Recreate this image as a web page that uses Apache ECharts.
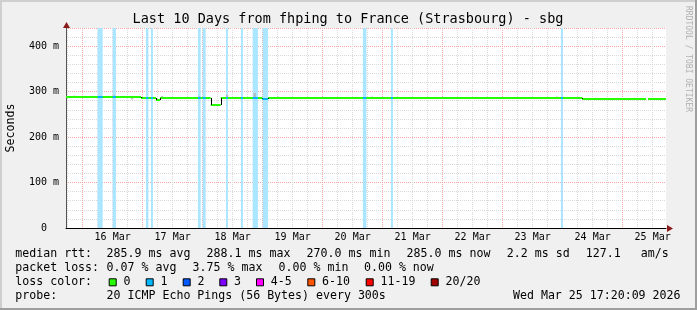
<!DOCTYPE html>
<html><head><meta charset="utf-8">
<script src="https://cdn.jsdelivr.net/npm/echarts@6/dist/echarts.min.js"></script>
<style>html,body{margin:0;padding:0;background:#f0f0f0}#c{width:697px;height:310px}</style>
</head><body><div id="c"></div>
<script>
// ---- data (x = hours since 15 Mar 2026 00:00) ----
const startHour = 17.336, endHour = 257.336;
const dayLabels = ['16 Mar','17 Mar','18 Mar','19 Mar','20 Mar','21 Mar','22 Mar','23 Mar','24 Mar','25 Mar'];
const dayLabelHours = [36,60,84,108,132,156,180,204,228,252];
const minorGridHours = [18,24,30,36,42,48,54,60,66,72,78,84,90,96,102,108,114,120,126,132,138,144,150,156,162,168,174,180,186,192,198,204,210,216,222,228,234,240,246,252];
const majorGridHours = [24,48,72,96,120,144,168,192,216,240];
const yLabelValues = [0,100,200,300,400];
const yLabelTexts = ['0  ','100 m','200 m','300 m','400 m'];

const medianStart = [17.34, 47.34, 53.34, 54.94, 75.22, 79.22, 95.86, 98.14, 223.86, 250.14];
const medianEnd   = [47.34, 53.34, 54.94, 75.22, 79.22, 95.86, 98.14, 223.86, 249.34, 257.34];
const medianValue = [288.0, 286.0, 281.5, 286.0, 270.0, 286.0, 283.0, 286.0, 284.0, 284.0];

const lossStart = [30.0, 36.0, 49.3, 51.3, 70.1, 72.0, 81.3, 87.3, 92.0, 96.0, 136.1, 147.3, 215.3];
const lossEnd   = [32.0, 37.3, 50.3, 52.1, 71.2, 73.2, 82.1, 88.1, 94.1, 98.1, 137.5, 148.1, 216.1];
const lossLevel = [1, 1, 1, 1, 1, 1, 1, 1, 1, 1, 1, 1, 1];

const smokeHour = [20.2, 30.5, 36.0, 43.4, 55.4, 70.3, 81.4, 92.4, 101.8, 139.4, 213.4];
const smokeLow  = [288, 288, 288, 283, 286, 286, 286, 286, 286, 286, 286];
const smokeHigh = [291, 291, 292, 287, 290, 290, 293, 297, 289, 289, 289];

const lossLabels = ['0','1','2','3','4-5','6-10','11-19','20/20'];
const lossColors = ['#26ff00','#00b8ff','#0059ff','#7e00ff','#ff00ff','#ff5500','#ff0000','#a00000'];
const lossBandColors = ['#b8ffaa','#aae6ff','#aac8ff','#d8aaff','#ffaaff','#ffc8aa','#ffaaaa','#e0aaaa'];

const titleText = 'Last 10 Days from fhping to France (Strasbourg) - sbg';
const rttLabel = 'median rtt:';
const rttItems = ['285.9 ms avg','288.1 ms max','270.0 ms min','285.0 ms now','2.2 ms sd','127.1','am/s'];
const lossLabel = 'packet loss:';
const lossItems = ['0.07 % avg','3.75 % max','0.00 % min','0.00 % now'];
const colorLabel = 'loss color:';
const probeLabel = 'probe:';
const probeText = '20 ICMP Echo Pings (56 Bytes) every 300s';
const dateText = 'Wed Mar 25 17:20:09 2026';

// ---- layout ----
const MONO = '"DejaVu Sans Mono", "Liberation Mono", monospace';
const rttX = [106.6, 206.6, 306.6, 406.6, 506.8, 585.8, 640.8];
const lossX = [106.6, 192.6, 278.6, 364.0];
const boxX = [108.7, 145.7, 182.7, 219.3, 256.0, 307.3, 365.7, 430.7];
const rowY = [254.3, 268.3, 282.3, 296.3];

// derived series data
const medianSegs = medianStart.map((s, i) => [s, medianEnd[i], medianValue[i], 0]);
function medianAt(h) {
  for (let i = 0; i < medianStart.length; i++) if (h >= medianStart[i] && h < medianEnd[i]) return medianValue[i];
  return null;
}
const lossSegs = lossStart.map((s, i) => [s, lossEnd[i], medianAt((s + lossEnd[i]) / 2), lossLevel[i]]);
const lossBands = lossStart.map((s, i) => [s, lossEnd[i], lossLevel[i]]);
const smokeData = smokeHour.map((h, i) => [h, smokeLow[i], smokeHigh[i]]);

const chart = echarts.init(document.getElementById('c'));

const graphics = [
  {type:'rect', shape:{x:0,y:0,width:697,height:2}, style:{fill:'#cfcfcf'}, silent:true},
  {type:'rect', shape:{x:0,y:0,width:2,height:310}, style:{fill:'#cfcfcf'}, silent:true},
  {type:'rect', shape:{x:0,y:308,width:697,height:2}, style:{fill:'#9e9e9e'}, silent:true},
  {type:'rect', shape:{x:695,y:0,width:2,height:310}, style:{fill:'#9e9e9e'}, silent:true},
  {type:'text', x:348, y:19.5, style:{text:titleText, font:'13.5px ' + MONO, fill:'#000', align:'center', verticalAlign:'middle', textAlign:'center', textVerticalAlign:'middle'}},
  {type:'text', x:11, y:128, rotation:Math.PI/2, style:{text:'Seconds', font:'11.6px ' + MONO, fill:'#000', align:'center', verticalAlign:'middle', textAlign:'center', textVerticalAlign:'middle'}},
  {type:'text', x:688, y:59, rotation:-Math.PI/2, style:{text:'RRDTOOL / TOBI OETIKER', font:'8px ' + MONO, fill:'#b0b0b0', align:'center', verticalAlign:'middle', textAlign:'center', textVerticalAlign:'middle'}},
  {type:'polygon', shape:{points:[[667,225],[673,228.5],[667,232]]}, style:{fill:'#8b1a1a'}, z:10},
  {type:'polygon', shape:{points:[[63,28],[66.5,22],[70,28]]}, style:{fill:'#8b1a1a'}, z:10}
];
function txt(t, x, y, align) {
  graphics.push({type:'text', x:x, y:y, style:{text:t, font:'11.6px ' + MONO, fill:'#000', align:align||'left', verticalAlign:'middle', textAlign:align||'left', textVerticalAlign:'middle'}});
}
txt(rttLabel, 15.3, rowY[0]);
rttItems.forEach((t, i) => txt(t, rttX[i], rowY[0]));
txt(lossLabel, 15.3, rowY[1]);
lossItems.forEach((t, i) => txt(t, lossX[i], rowY[1]));
txt(colorLabel, 15.3, rowY[2]);
lossLabels.forEach((t, i) => {
  graphics.push({type:'rect', shape:{x:boxX[i] + 0.5, y:rowY[2] - 3.5, width:7, height:7}, style:{fill:lossColors[i], stroke:'#000', lineWidth:1}});
  txt(t, boxX[i] + 14.8, rowY[2]);
});
txt(probeLabel, 15.3, rowY[3]);
txt(probeText, 106.6, rowY[3]);
txt(dateText, 680.5, rowY[3], 'right');

const axisFont = {fontFamily: MONO, fontSize: 10, color: '#000'};
const GRID_GRAY = '#dadada';
const GRID_RED = '#f5a8a8';

function bandRect(api, color) {
  const p0 = api.coord([api.value(0), api.value(2)]);
  const p1 = api.coord([api.value(1), api.value(2)]);
  const top = Math.round(p0[1] - 1);
  return {type:'rect', shape:{x:p0[0], y:top, width:p1[0]-p0[0], height:2}, style:{fill:color}};
}

chart.setOption({
  animation: false,
  backgroundColor: '#f0f0f0',
  grid: {left: 66, top: 28, width: 600, height: 200, show: true, backgroundColor: '#ffffff', borderWidth: 0},
  xAxis: [
    {type:'value', min:startHour, max:endHour,
     axisLine:{show:true, onZero:false, lineStyle:{color:'#000', width:1}},
     axisTick:{show:false, customValues:minorGridHours},
     splitLine:{show:true, lineStyle:{color:GRID_GRAY, type:'dotted', width:1}},
     axisLabel:Object.assign({customValues:dayLabelHours, margin:4, formatter:v => dayLabels[dayLabelHours.indexOf(v)] || ''}, axisFont)},
    {type:'value', min:startHour, max:endHour, position:'bottom',
     axisLine:{show:false}, axisTick:{show:false, customValues:majorGridHours}, axisLabel:{show:false},
     splitLine:{show:true, lineStyle:{color:GRID_RED, type:'dotted', width:1}}}
  ],
  yAxis: [
    {type:'value', min:0, max:440, interval:20,
     axisLine:{show:true, lineStyle:{color:'#555', width:1}}, axisTick:{show:false},
     splitLine:{show:true, lineStyle:{color:GRID_GRAY, type:'dotted', width:1}},
     axisLabel:Object.assign({margin:7, formatter:v => { const k = yLabelValues.indexOf(v); return k < 0 ? '' : yLabelTexts[k]; }}, axisFont)},
    {type:'value', min:0, max:440, interval:100, position:'left',
     axisLine:{show:false}, axisTick:{show:false}, axisLabel:{show:false},
     splitLine:{show:true, lineStyle:{color:GRID_RED, type:'dotted', width:1}}}
  ],
  series: [
    {type:'custom', name:'lossbands', z:1, data:lossBands, encode:{x:[0,1]},
     renderItem:(params, api) => {
       const p0 = api.coord([api.value(0), 440]);
       const p1 = api.coord([api.value(1), 0]);
       return {type:'rect', shape:{x:p0[0], y:p0[1], width:p1[0]-p0[0], height:p1[1]-p0[1]}, style:{fill:lossBandColors[api.value(2)]}};
     }},
    {type:'custom', name:'smoke', z:2, data:smokeData, encode:{x:0, y:[1,2]},
     renderItem:(params, api) => {
       const p0 = api.coord([api.value(0), api.value(2)]);
       const p1 = api.coord([api.value(0) + 0.8, api.value(1)]);
       return {type:'rect', shape:{x:p0[0], y:p0[1], width:p1[0]-p0[0], height:p1[1]-p0[1]}, style:{fill:'#b4b4b4'}};
     }},
    {type:'custom', name:'median', z:4, data:medianSegs, encode:{x:[0,1], y:2},
     renderItem:(params, api) => {
       const i = params.dataIndex;
       const children = [bandRect(api, lossColors[api.value(3)])];
       if (i > 0 && medianStart[i] === medianEnd[i-1]) {
         const pPrev = api.coord([api.value(0), medianValue[i-1]]);
         const pCur = api.coord([api.value(0), api.value(2)]);
         const x = Math.round(pCur[0]) + 0.5;
         children.push({type:'line', shape:{x1:x, y1:Math.round(pPrev[1]), x2:x, y2:Math.round(pCur[1])}, style:{stroke:'#000', lineWidth:1}});
       }
       return {type:'group', children:children};
     }},
    {type:'custom', name:'lossColor', z:5, data:lossSegs, encode:{x:[0,1], y:2},
     renderItem:(params, api) => bandRect(api, lossColors[api.value(3)])}
  ],
  graphic: {elements: graphics}
});
</script></body></html>
